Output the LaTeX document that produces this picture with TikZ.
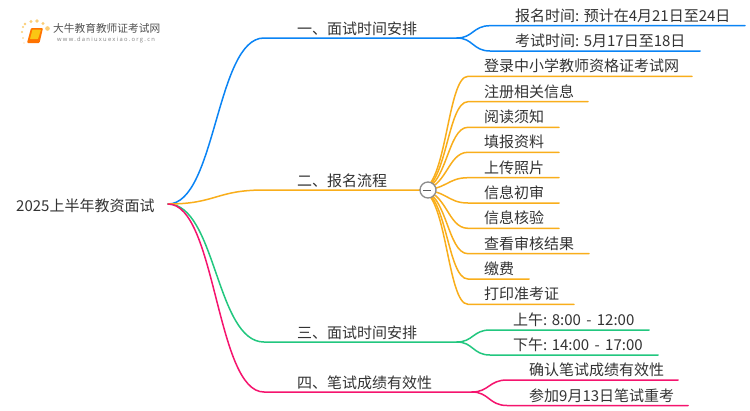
\documentclass[tikz,border=0pt]{standalone}
\usepackage{fontspec}
\setmainfont{Noto Sans CJK SC}
\newfontfamily\latinf[LetterSpace=22]{Open Sans}
\definecolor{cblue}{HTML}{0A84F5}
\definecolor{corange}{HTML}{F9AE1B}
\definecolor{cgreen}{HTML}{22C77F}
\definecolor{cred}{HTML}{F5146E}
\definecolor{ctext}{HTML}{333333}
\tikzset{
 lab/.style={font=\fontsize{15}{17}\selectfont,text=ctext,inner sep=0pt,anchor=base west},
 conn/.style={line width=1.5pt,line cap=round},
}
\begin{document}
\begin{tikzpicture}[x=1pt,y=-1pt]
\useasboundingbox (0,0) rectangle (750,410);
\fill[white] (0,0) rectangle (750,410);
% logo
\foreach \x/\y/\r in {23/27/1.1,22/32/1.1,25/24/1.4,31/21.5/1.7,37/21/1.9,43/23.5/1.7,47.5/28.5/2.3,23/38/.9,24/43/.7}
  \fill[corange!60!white] (\x,\y) circle (\r);
\fill[orange!90!red,rounded corners=1pt] (31,28) -- (43,28) -- (39.5,43) -- (27,43) -- cycle;
\fill[corange!70!yellow,rounded corners=.5pt] (32.5,29.5) -- (41,29.5) -- (38,39) -- (30,39) -- cycle;
\node[inner sep=0pt,anchor=base west,font=\fontsize{10.7}{12}\selectfont,text=ctext!85] (logot) at (53,32) {大牛教育教师证考试网};
\node[inner sep=0pt,anchor=base west,font=\latinf\fontsize{5.8}{8}\selectfont,text=gray] (logou) at (57,41.5) {www.daniuxuexiao.org.cn};
% root
\node[lab] (root) at (16,211) {2025上半年教资面试};
\coordinate (r) at (168,204);
% branches
\coordinate (b1s) at (264,38);\coordinate (b1e) at (457,38);
\coordinate (b2s) at (264,190);\coordinate (b2e) at (420,190);
\coordinate (b3s) at (264,342);\coordinate (b3e) at (457,342);
\coordinate (b4s) at (264,392);\coordinate (b4e) at (472,392);
\node[lab] (n1) at (297,34) {一、面试时间安排};
\node[lab] (n2) at (297,186) {二、报名流程};
\node[lab] (n3) at (297,338) {三、面试时间安排};
\node[lab] (n4) at (297,388) {四、笔试成绩有效性};
\draw[conn,cgreen] (r) .. controls (216,204) and (216,342) .. (b3s) -- (b3e);
\draw[conn,cblue] (r) .. controls (216,204) and (216,38) .. (b1s) -- (b1e);
\draw[conn,corange] (r) .. controls (216,204) and (216,190) .. (b2s) -- (b2e);
\draw[conn,cred] (r) .. controls (216,204) and (216,392) .. (b4s) -- (b4e);
% blue leaves
\foreach \nm/\y/\en/\txt in {a1/25.7/745/报名时间: 预计在4月21日至24日,a2/51/700/考试时间: 5月17日至18日}{
 \node[lab] (\nm) at (515,\y-4.5) {\txt};
 \coordinate (\nm s) at (490,\y); \coordinate (\nm e) at (\en,\y);
 \draw[conn,cblue] (b1e) .. controls (473,38) and (473,\y) .. (\nm s) -- (\nm e);
}
% orange leaves
\foreach \nm/\y/\en/\txt in {c1/76.3/692/登录中小学教师资格证考试网,c2/101.7/588/注册相关信息,c3/127.3/559/阅读须知,c4/152.3/559/填报资料,c5/177.7/559/上传照片,c6/203/559/信息初审,c7/228.3/559/信息核验,c8/253.7/589/查看审核结果,c9/279/529/缴费,c10/304.3/574/打印准考证}{
 \node[lab] (\nm) at (484,\y-4.5) {\txt};
 \coordinate (\nm s) at (468,\y); \coordinate (\nm e) at (\en,\y);
 \draw[conn,corange] (b2e) .. controls (447,190) and (447,\y) .. (\nm s) -- (\nm e);
}
\node[circle,draw=gray!90,line width=1.3pt,fill=white,minimum size=16pt,inner sep=0pt] (col) at (428,190) {};
\draw[ctext!80,line width=1pt] (col.west)++(4,0) -- ++(8,0);
% green leaves
\foreach \nm/\y/\en/\txt in {d1/330/649/上午: 8:00\hspace{2pt} - \hspace{2pt}12:00,d2/355/658/下午: 14:00\hspace{2pt} - \hspace{2pt}17:00}{
 \node[lab] (\nm) at (513,\y-4.5) {\txt};
 \coordinate (\nm s) at (490,\y); \coordinate (\nm e) at (\en,\y);
 \draw[conn,cgreen] (b3e) .. controls (473,342) and (473,\y) .. (\nm s) -- (\nm e);
}
% red leaves
\foreach \nm/\y/\en/\txt in {e1/380/678/确认笔试成绩有效性,e2/405.5/688/参加9月13日笔试重考}{
 \node[lab] (\nm) at (529,\y-4.5) {\txt};
 \coordinate (\nm s) at (507,\y); \coordinate (\nm e) at (\en,\y);
 \draw[conn,cred] (b4e) .. controls (489,392) and (489,\y) .. (\nm s) -- (\nm e);
}
\end{tikzpicture}
\end{document}
